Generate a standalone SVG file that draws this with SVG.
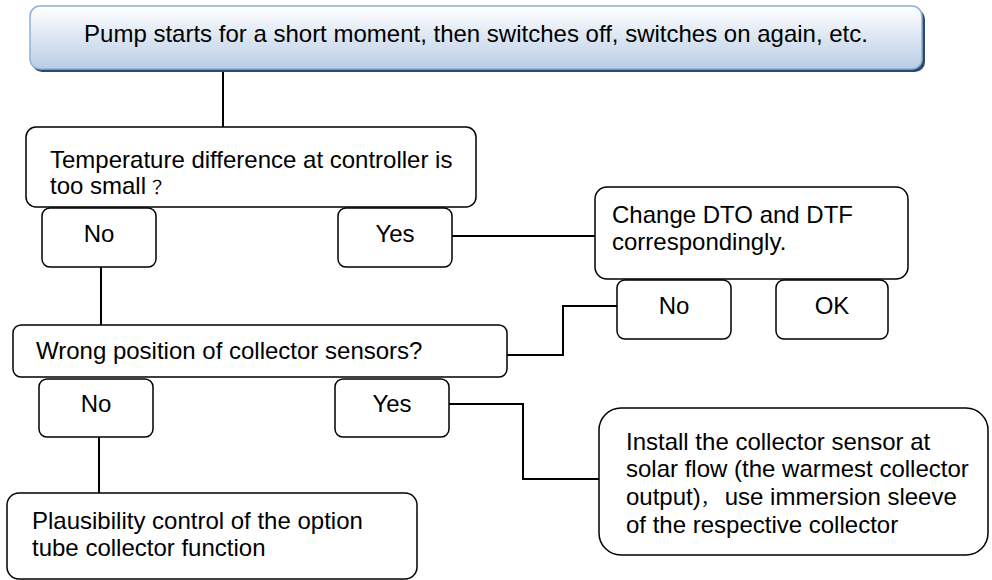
<svg xmlns="http://www.w3.org/2000/svg" width="992" height="580" viewBox="0 0 992 580">
<defs>
<linearGradient id="topGrad" x1="0" y1="0" x2="0" y2="1">
<stop offset="0" stop-color="#ffffff"/>
<stop offset="1" stop-color="#b9cde5"/>
</linearGradient>
</defs>
<style>
text{font-family:"Liberation Sans",Arial,"Noto Sans CJK SC",sans-serif;font-size:24px;fill:#000}
.cjk{font-family:"Noto Sans CJK JP","Noto Sans CJK SC",sans-serif}
.box{fill:#fff;stroke:#000;stroke-width:1.5}
.mid{text-anchor:middle}
.conn{fill:none;stroke:#000;stroke-width:2}
</style>
<rect width="992" height="580" fill="#fff"/>
<g id="connectors">
<path class="conn" d="M223 71 V127"/>
<path class="conn" d="M101 267 V325"/>
<path class="conn" d="M452 236 H595"/>
<path class="conn" d="M617 306 H563 V355 H507"/>
<path class="conn" d="M99 437 V493"/>
<path class="conn" d="M449 404 H523 V479 H599"/>
</g>
<g id="start">
<rect x="32" y="9" width="893" height="63" rx="10" fill="#2c4a6e"/>
<rect x="30" y="6" width="892" height="63" rx="10" fill="url(#topGrad)" stroke="#8fb0d8" stroke-width="1.5"/>
<text x="476" y="42" class="mid">Pump starts for a short moment, then switches off, switches on again, etc.</text>
</g>
<g id="q1">
<rect class="box" x="26" y="127" width="450" height="80" rx="10"/>
<text x="50" y="168">Temperature difference at controller is</text>
<text x="50" y="194">too small<tspan class="cjk" font-size="18" dx="2">？</tspan></text>
</g>
<g id="q1-no">
<rect class="box" x="42" y="208" width="114" height="59" rx="8"/>
<text x="99" y="242" class="mid">No</text>
</g>
<g id="q1-yes">
<rect class="box" x="338" y="208" width="114" height="59" rx="8"/>
<text x="395" y="242" class="mid">Yes</text>
</g>
<g id="change">
<rect class="box" x="595" y="187" width="313" height="92" rx="12"/>
<text x="612" y="223">Change DTO and DTF</text>
<text x="612" y="250">correspondingly.</text>
</g>
<g id="change-no">
<rect class="box" x="617" y="280" width="114" height="59" rx="8"/>
<text x="674" y="314" class="mid">No</text>
</g>
<g id="change-ok">
<rect class="box" x="776" y="280" width="112" height="59" rx="8"/>
<text x="832" y="314" class="mid">OK</text>
</g>
<g id="q2">
<rect class="box" x="13" y="325" width="494" height="52" rx="8"/>
<text x="36" y="359">Wrong position of collector sensors?</text>
</g>
<g id="q2-no">
<rect class="box" x="39" y="379" width="114" height="58" rx="8"/>
<text x="96" y="412" class="mid">No</text>
</g>
<g id="q2-yes">
<rect class="box" x="335" y="379" width="114" height="58" rx="8"/>
<text x="392" y="412" class="mid">Yes</text>
</g>
<g id="install">
<rect class="box" x="599" y="408" width="389" height="147" rx="22"/>
<text x="626" y="450">Install the collector sensor at</text>
<text x="626" y="477">solar flow (the warmest collector</text>
<text x="626" y="505">output)<tspan class="cjk" font-size="18">，</tspan><tspan dx="6">use immersion sleeve</tspan></text>
<text x="626" y="533">of the respective collector</text>
</g>
<g id="plausibility">
<rect class="box" x="7" y="493" width="410" height="86" rx="12"/>
<text x="32" y="529">Plausibility control of the option</text>
<text x="32" y="556">tube collector function</text>
</g>
</svg>
